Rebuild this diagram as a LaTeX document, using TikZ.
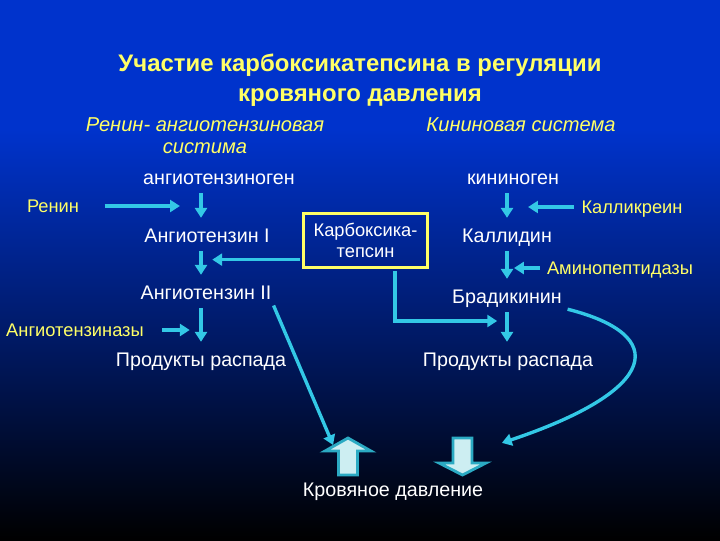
\documentclass[tikz,border=0pt]{standalone}
\usepackage{fontspec}
\setmainfont{Liberation Sans}
\usetikzlibrary{arrows.meta}
\definecolor{bgblue}{RGB}{0,51,204}
\definecolor{ttl}{RGB}{255,255,102}
\definecolor{arw}{RGB}{51,200,230}
\definecolor{bigfill}{RGB}{205,238,242}
\begin{document}
\begin{tikzpicture}[x=0.025cm,y=-0.025cm,
    every node/.style={text=white,inner sep=1pt,font=\fontsize{14}{16}\selectfont},
    nd/.style={text height=11.5pt,text depth=2pt},
    lbl/.style={nd,text=ttl,font=\fontsize{13}{15}\selectfont},
    arr/.style={draw=arw,line width=2.4pt,shorten <=3pt,shorten >=5pt,-{Triangle[length=7pt,width=8.5pt]}},
    big/.style={draw=arw!85!black,line width=2pt,fill=bigfill,line join=miter}]
  \useasboundingbox (0,0) rectangle (720,540);
  \fill[bgblue] (0,0) rectangle (720,130);
  \shade[top color=bgblue,bottom color=black] (0,130) rectangle (720,540);
  \draw
    (360,80) node[align=center,text=ttl,font=\bfseries\fontsize{17}{21.3}\selectfont] (title){Участие карбоксикатепсина в регуляции\\кровяного давления}
    (205,136) node[align=center,text=ttl,font=\itshape\fontsize{14.3}{15.6}\selectfont] (ras){Ренин- ангиотензиновая\\систима}
    (521,125) node[text=ttl,font=\itshape\fontsize{14.3}{15.6}\selectfont] (kins){Кининовая система}
    (219,178) node[nd] (agn){ангиотензиноген}
    (513,178) node[nd] (kng){кининоген}
    (53,206) node[lbl] (ren){Ренин}
    (632,207) node[lbl] (klk){Калликреин}
    (207,236) node[nd] (at1){Ангиотензин I}
    (365.5,240.5) node[draw=ttl,line width=2.2pt,minimum width=88.6pt,minimum height=39pt,align=center,font=\fontsize{13}{15}\selectfont] (box){Карбоксика-\\тепсин}
    (507,236) node[nd] (kld){Каллидин}
    (620,268) node[lbl] (amp){Аминопептидазы}
    (206,293) node[nd] (at2){Ангиотензин II}
    (507,297) node[nd] (brk){Брадикинин}
    (75,330) node[lbl] (atz){Ангиотензиназы}
    (201,360) node[nd] (pr1){Продукты распада}
    (508,360) node[nd] (pr2){Продукты распада}
    (393,490) node[nd] (bp){Кровяное давление};
  \coordinate (cL) at (201,0);
  \coordinate (cR) at (507,0);
  \coordinate (j) at (507,321);
  \coordinate (up) at (348,438);
  \coordinate (dn) at (462.5,438);
  \begin{scope}
    \draw[arr] (agn.south -| cL) -- (at1.north -| cL);
    \draw[arr] (at1.south -| cL) -- (at2.north -| cL);
    \draw[arr] (at2.south -| cL) -- (pr1.north -| cL);
    \draw[arr] (kng.south -| cR) -- (kld.north -| cR);
    \draw[arr] (kld.south -| cR) -- (brk.north -| cR);
    \draw[arr] (brk.south -| cR) -- (pr2.north -| cR);
    \draw[arr,shorten <=17pt,shorten >=15pt] (ren) -- (ren -| cL);
    \draw[arr,shorten <=4pt,shorten >=15pt] (klk) -- (klk -| cR);
    \draw[arr,shorten <=4pt,shorten >=5pt] (amp) -- (amp -| cR);
    \draw[arr,shorten <=12pt,shorten >=8pt] (atz) -- (atz -| cL);
    \draw[arr,shorten <=1pt,shorten >=8pt] ([yshift=7pt]box.south west) -- ([yshift=7pt]box.south west -| cL);
    \draw[arr,shorten <=1pt,shorten >=7pt] ([xshift=21pt]box.south) |- (j);
    \draw[arr,shorten <=1pt,shorten >=0pt] (at2.south east) -- ([xshift=-10.6pt,yshift=-5pt]up);
    \draw[arr,shorten <=3pt,shorten >=0pt] (brk.south east) .. controls (670,335) and (660,390) .. ([xshift=28pt,yshift=-3.5pt]dn);
  \end{scope}
  \draw[big] (up) -- ++(23,13) -- ++(-13.5,0) -- ++(0,24) -- ++(-19,0) -- ++(0,-24) -- ++(-13.5,0) -- cycle;
  \draw[big] (dn) ++(-9.5,0) -- ++(19,0) -- ++(0,25) -- ++(14,0) -- ++(-23.5,12) -- ++(-23.5,-12) -- ++(14,0) -- cycle;
\end{tikzpicture}
\end{document}
